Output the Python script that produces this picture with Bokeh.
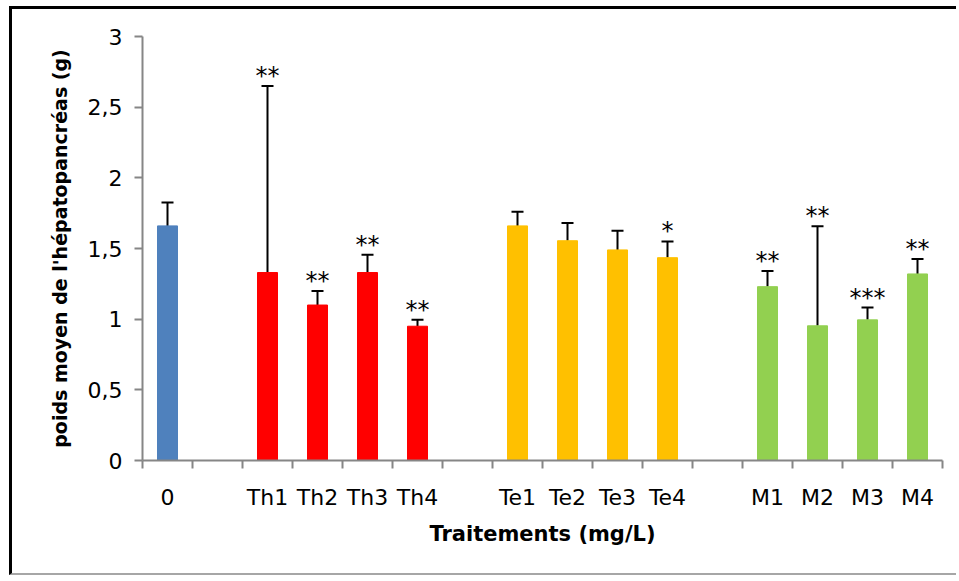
from bokeh.plotting import figure
from bokeh.models import (ColumnDataSource, FixedTicker, Whisker, TeeHead,
                          CustomJSTickFormatter, Range1d)
from bokeh.core.properties import value
from bokeh.embed import file_html
from bokeh.resources import INLINE

# Treatment slots along the x axis (None = empty slot between groups)
axis_slots = ["0", None, "Th1", "Th2", "Th3", "Th4", None,
              "Te1", "Te2", "Te3", "Te4", None, "M1", "M2", "M3", "M4"]

# Mean hepatopancreas weight (g) and standard deviation per treatment
treatments = ["0", "Th1", "Th2", "Th3", "Th4", "Te1", "Te2", "Te3", "Te4",
              "M1", "M2", "M3", "M4"]
means = [1.66, 1.33, 1.10, 1.33, 0.95, 1.66, 1.555, 1.49, 1.435,
         1.23, 0.953, 0.995, 1.32]
sds = [0.165, 1.32, 0.10, 0.125, 0.045, 0.10, 0.125, 0.135, 0.115,
       0.11, 0.705, 0.087, 0.105]
signif = ["", "**", "**", "**", "**", "", "", "", "*",
          "**", "**", "***", "**"]
groups = ["Témoin", "Th", "Th", "Th", "Th", "Te", "Te", "Te", "Te",
          "M", "M", "M", "M"]
group_colors = {"Témoin": "#4F81BD", "Th": "#FF0000", "Te": "#FFC000", "M": "#92D050"}

FONT = "DejaVu Sans"
AXIS_GREY = "#868686"

# bar centres come from the slot order
slot_index = {name: i for i, name in enumerate(axis_slots) if name is not None}
xs = [slot_index[t] + 0.5 for t in treatments]
tops = [m + s for m, s in zip(means, sds)]

src = ColumnDataSource(dict(
    x=xs, mean=means, top=tops, sig=signif,
    color=[group_colors[g] for g in groups],
))

W, H = 947, 569
p = figure(width=W, height=H, output_backend="svg", toolbar_location=None,
           x_range=Range1d(0, len(axis_slots)), y_range=Range1d(0, 3),
           min_border_left=130, min_border_right=17,
           min_border_top=27, min_border_bottom=118)
p.styles = {"margin-left": "9px", "margin-top": "6px",
            "border-left": "3px solid #000000",
            "border-top": "3px solid #000000",
            "border-bottom": "2px solid #A6A6A6"}
p.outline_line_color = None
p.grid.grid_line_color = None
p.background_fill_color = "white"
p.border_fill_color = "white"

p.vbar(x="x", top="mean", bottom=0, width=0.4, color="color", source=src)

p.add_layout(Whisker(base="x", lower="mean", upper="top", source=src,
                     line_color="black", line_width=2,
                     upper_head=TeeHead(size=12, line_color="black", line_width=2),
                     lower_head=None))

p.text(x="x", y="top", text="sig", source=src, text_align="center",
       text_baseline="alphabetic", y_offset=-10,
       text_font=value(FONT), text_font_size="24px", text_color="black")

# y axis
yax = p.yaxis[0]
yax.ticker = FixedTicker(ticks=[0, 0.5, 1, 1.5, 2, 2.5, 3])
yax.formatter = CustomJSTickFormatter(code="return tick.toString().replace('.', ',');")
yax.axis_line_color = AXIS_GREY
yax.axis_line_width = 2
yax.major_tick_line_color = AXIS_GREY
yax.major_tick_line_width = 2
yax.major_tick_out = 8
yax.major_tick_in = 0
yax.minor_tick_line_color = None
yax.major_label_standoff = 12
yax.major_label_text_font = FONT
yax.major_label_text_font_size = "22px"
yax.major_label_text_color = "black"
yax.axis_label = "poids moyen de l'hépatopancréas (g)"
yax.axis_label_text_font = FONT
yax.axis_label_text_font_style = "bold"
yax.axis_label_text_font_size = "19px"
yax.axis_label_text_color = "black"
yax.axis_label_standoff = 14

# x axis: labels at slot centres, tick marks at slot boundaries
centres = [i + 0.5 for i, n in enumerate(axis_slots) if n is not None]
xax = p.xaxis[0]
xax.ticker = FixedTicker(ticks=centres,
                         minor_ticks=list(range(len(axis_slots) + 1)))
xax.major_label_overrides = {c: n for c, n in zip(centres, [n for n in axis_slots if n is not None])}
xax.axis_line_color = AXIS_GREY
xax.axis_line_width = 2
xax.major_tick_line_color = None
xax.major_tick_out = 0
xax.major_tick_in = 0
xax.minor_tick_line_color = AXIS_GREY
xax.minor_tick_line_width = 2
xax.minor_tick_out = 8
xax.minor_tick_in = 0
xax.major_label_standoff = 16
xax.major_label_text_font = FONT
xax.major_label_text_font_size = "22px"
xax.major_label_text_color = "black"
xax.axis_label = "Traitements (mg/L)"
xax.axis_label_text_font = FONT
xax.axis_label_text_font_style = "bold"
xax.axis_label_text_font_size = "21px"
xax.axis_label_text_color = "black"
xax.axis_label_standoff = 9

open("out.html", "w").write(file_html(p, INLINE))
